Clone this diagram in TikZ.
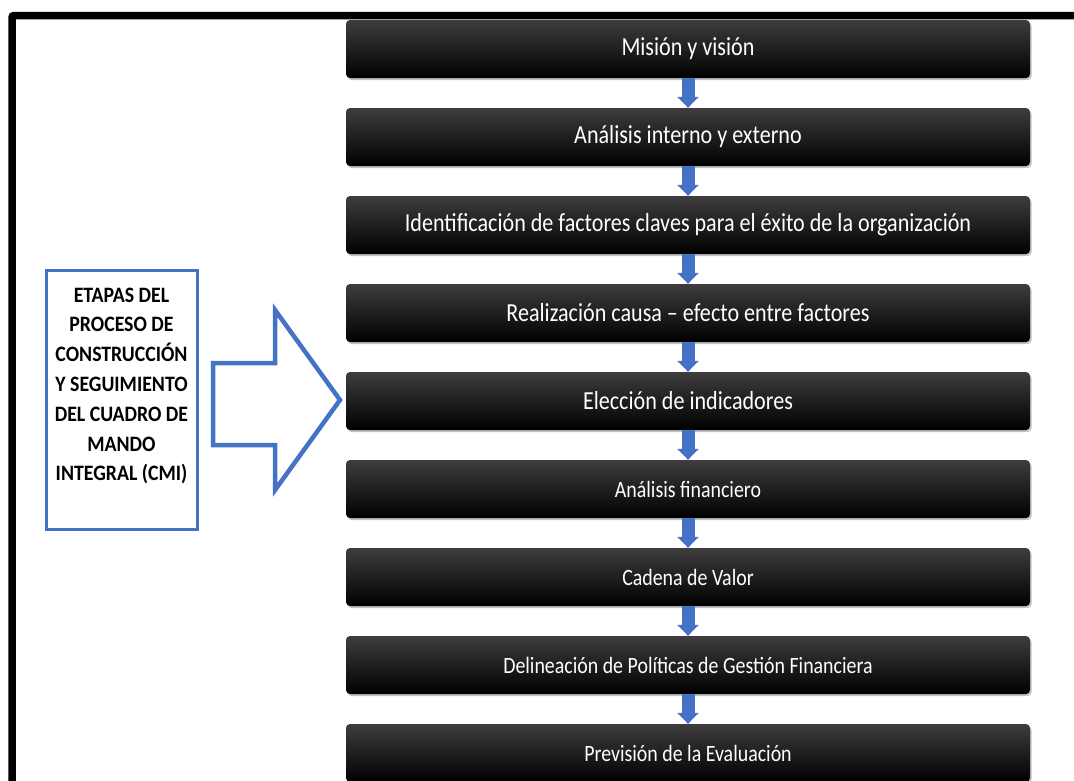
\documentclass[tikz,border=0pt]{standalone}
\usepackage{fontspec}
\usepackage{graphicx}
\setmainfont{Carlito}
\usetikzlibrary{arrows.meta,shadows}
\definecolor{cblue}{RGB}{68,114,196}
\newcommand\sqz[1]{\scalebox{0.85}[1]{#1}}
\tikzset{
  stage/.style={rounded corners=4pt, minimum width=684pt, minimum height=58pt,
    top color=black!76, middle color=black, bottom color=black, text=white,
    inner sep=0pt, font=\fontsize{26}{30}\selectfont,
    drop shadow={shadow xshift=1.5pt, shadow yshift=-2pt, opacity=0.35, fill=black!70}},
  small/.style={font=\fontsize{23.4}{28}\selectfont},
  flow/.style={cblue, line width=13pt, -{Triangle[width=21pt,length=11pt]}},
  frame/.style={line width=7.5pt, rounded corners=2pt},
  leftbox/.style={draw=cblue, line width=3pt, minimum width=151pt, minimum height=259pt, inner sep=0pt},
  lefttext/.style={align=center, font=\bfseries\fontsize{22}{29.8}\selectfont, inner sep=0pt},
  bigarrow/.style={draw=cblue, line width=4.5pt, line join=miter}
}
\begin{document}
\begin{tikzpicture}[x=1pt,y=-1pt]
\useasboundingbox (0,0) rectangle (1074,780);
\clip (0,0) rectangle (1074,780);
\draw[frame] (12,15.5) rectangle (1095,800);
\node[stage] (s1) at (688,49) {\sqz{Misión y visión}};
\node[stage] (s2) at (688,137) {\sqz{Análisis interno y externo}};
\node[stage] (s3) at (688,225) {\sqz{Identificación de factores claves para el éxito de la organización}};
\node[stage] (s4) at (688,313) {\sqz{Realización causa – efecto entre factores}};
\node[stage] (s5) at (688,401) {\sqz{Elección de indicadores}};
\node[stage,small] (s6) at (688,489) {\sqz{Análisis financiero}};
\node[stage,small] (s7) at (688,577) {\sqz{Cadena de Valor}};
\node[stage,small] (s8) at (688,665) {\sqz{Delineación de Políticas de Gestión Financiera}};
\node[stage,small] (s9) at (688,753) {\sqz{Previsión de la Evaluación}};
\foreach \a/\b in {s1/s2,s2/s3,s3/s4,s4/s5,s5/s6,s6/s7,s7/s8,s8/s9}
  \draw[flow] (\a.south) -- (\b.north);
\node[leftbox] (lb) at (121.5,399.5) {};
\node[lefttext, anchor=north] (lt) at (121.5,281) {\scalebox{0.9}[1]{\begin{tabular}{@{}c@{}}ETAPAS DEL\\PROCESO DE\\CONSTRUCCIÓN\\Y SEGUIMIENTO\\DEL CUADRO DE\\MANDO\\INTEGRAL (CMI)\end{tabular}}};
\draw[bigarrow] (213,363) -- (275,363) -- (275,310) -- (340,400) -- (275,490) -- (275,445) -- (213,445) -- cycle;
\end{tikzpicture}
\end{document}
